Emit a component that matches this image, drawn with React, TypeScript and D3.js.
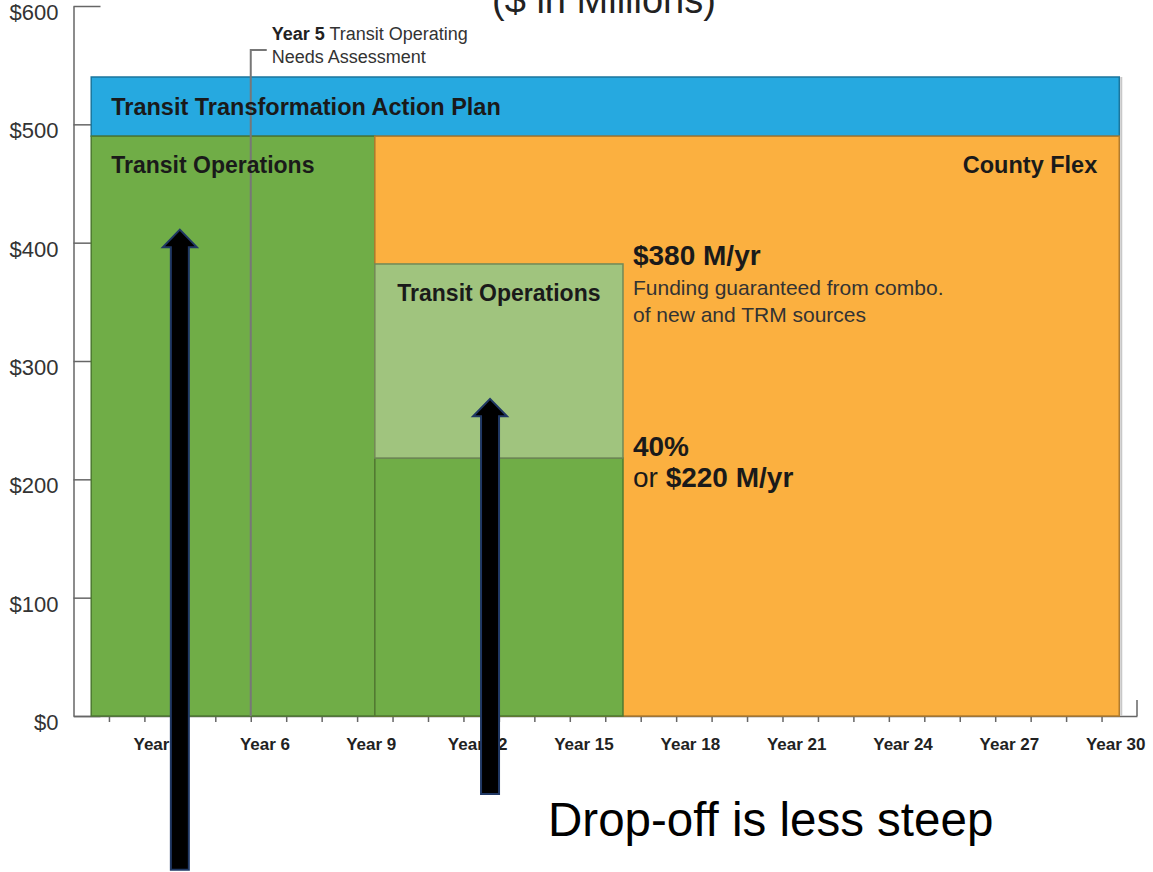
import * as d3 from "d3";
import { useRef, useEffect } from "react";

const W = 1153;
const H = 872;

// funding blocks: years on x, $ millions on y
const blockNames = [
  "Transit Transformation Action Plan",
  "Transit Operations",
  "County Flex",
  "Transit Operations (base)",
  "Transit Operations (guaranteed)",
];
const blockStart = [1.5, 1.5, 9.5, 9.5, 9.5];
const blockEnd = [30.5, 9.5, 30.5, 16.5, 16.5];
const blockLow = [490, 0, 0, 0, 218];
const blockHigh = [540, 490, 490, 218, 382];

const yTicks = [0, 100, 200, 300, 400, 500, 600];
const yearTicks = d3.range(2, 31);
const yearLabels = [3, 6, 9, 12, 15, 18, 21, 24, 27, 30];
const assessmentYear = 6;

// the two callout arrows (year, bottom $M, tip $M)
const arrowYears = [4, 12.75];
const arrowBase = [-130, -66];
const arrowTip = [411, 268];

const blockColors = ["#26a9e0", "#70ad47", "#fbb040", "#70ad47", "#a0c47e"];

const FONT = "Liberation Sans, Arial, Helvetica, sans-serif";

function draw(svgEl: SVGSVGElement | null) {
  if (!svgEl) return;
  const svg = d3.select(svgEl);
  svg.selectAll("*").remove();

  const x = d3.scaleLinear().domain([1, 31]).range([73.5, 1137]);
  const y = d3.scaleLinear().domain([0, 600]).range([716, 6]);

  // title, mostly cut off at the top (as in the source slide)
  svg
    .append("text")
    .attr("x", 604)
    .attr("y", 13)
    .attr("text-anchor", "middle")
    .attr("font-family", FONT)
    .attr("font-size", 38)
    .attr("fill", "#222")
    .text("($ in Millions)");

  // y axis
  const yAxis = svg
    .append("g")
    .attr("transform", `translate(${x(1)},0)`)
    .call(
      d3
        .axisLeft(y)
        .tickValues(yTicks)
        .tickSize(-27)
        .tickSizeOuter(0)
        .tickPadding(15)
        .tickFormat((d) => `$${d}`)
    );
  yAxis.select(".domain").attr("stroke", "#666").attr("stroke-width", 1.5);
  yAxis.selectAll(".tick line").attr("stroke", "#666").attr("stroke-width", 1.5);
  yAxis
    .selectAll(".tick text")
    .attr("font-family", FONT)
    .attr("font-size", 22)
    .attr("dy", "0.62em")
    .attr("fill", "#333");

  // x axis
  const xAxis = svg
    .append("g")
    .attr("transform", `translate(0,${y(0)})`)
    .call(
      d3
        .axisBottom(x)
        .tickValues(yearTicks)
        .tickSize(6)
        .tickSizeOuter(0)
        .tickFormat(() => "")
    );
  xAxis.select(".domain").attr("stroke", "#666").attr("stroke-width", 1.5);
  xAxis.selectAll(".tick line").attr("stroke", "#666").attr("stroke-width", 1.5);
  svg
    .append("line")
    .attr("x1", x(31))
    .attr("x2", x(31))
    .attr("y1", y(0))
    .attr("y2", y(0) - 16)
    .attr("stroke", "#666")
    .attr("stroke-width", 1.5);

  svg
    .append("g")
    .selectAll("text")
    .data(yearLabels)
    .join("text")
    .attr("x", (d) => x(d + 0.4))
    .attr("y", y(0) + 34)
    .attr("text-anchor", "middle")
    .attr("font-family", FONT)
    .attr("font-weight", "bold")
    .attr("font-size", 17)
    .attr("fill", "#222")
    .text((d) => `Year ${d}`);

  // blocks
  svg
    .append("g")
    .selectAll("rect")
    .data(blockNames)
    .join("rect")
    .attr("x", (_, i) => x(blockStart[i]))
    .attr("y", (_, i) => y(blockHigh[i]))
    .attr("width", (_, i) => x(blockEnd[i]) - x(blockStart[i]))
    .attr("height", (_, i) => y(blockLow[i]) - y(blockHigh[i]))
    .attr("fill", (_, i) => blockColors[i])
    .attr("stroke", (_, i) => d3.color(blockColors[i])!.darker(1).toString())
    .attr("stroke-width", 1.5);

  // light shadow on the right edge
  svg
    .append("line")
    .attr("x1", x(30.5) + 2)
    .attr("x2", x(30.5) + 2)
    .attr("y1", y(540))
    .attr("y2", y(0))
    .attr("stroke", "#c8c8c8")
    .attr("stroke-width", 2);

  // Year 5 needs assessment marker
  const xa = x(assessmentYear);
  svg
    .append("path")
    .attr("d", `M${xa},${y(0)}V50H${xa + 16}`)
    .attr("fill", "none")
    .attr("stroke", "#777")
    .attr("stroke-width", 2);
  const note = svg
    .append("text")
    .attr("font-family", FONT)
    .attr("font-size", 18)
    .attr("fill", "#333");
  const l1 = note.append("tspan").attr("x", xa + 21).attr("y", 40);
  l1.append("tspan").attr("font-weight", "bold").attr("fill", "#222").text("Year 5");
  l1.append("tspan").text(" Transit Operating");
  note.append("tspan").attr("x", xa + 21).attr("y", 63).text("Needs Assessment");

  // block labels
  const bold = (sel: d3.Selection<SVGTextElement, unknown, null, undefined>, size: number) =>
    sel
      .attr("font-family", FONT)
      .attr("font-weight", "bold")
      .attr("font-size", size)
      .attr("fill", "#1a1a1a");

  bold(svg.append("text"), 23.5)
    .attr("x", x(blockStart[0]) + 20)
    .attr("y", (y(blockHigh[0]) + y(blockLow[0])) / 2 + 8)
    .text(blockNames[0]);
  bold(svg.append("text"), 23)
    .attr("x", x(blockStart[1]) + 20)
    .attr("y", y(blockHigh[1]) + 37)
    .text(blockNames[1]);
  bold(svg.append("text"), 23.5)
    .attr("x", x(blockEnd[2]) - 22)
    .attr("y", y(blockHigh[2]) + 37)
    .attr("text-anchor", "end")
    .text(blockNames[2]);
  bold(svg.append("text"), 23)
    .attr("x", (x(blockStart[4]) + x(blockEnd[4])) / 2)
    .attr("y", y(blockHigh[4]) + 37)
    .attr("text-anchor", "middle")
    .text("Transit Operations");

  // right-hand notes
  const nx = x(blockEnd[4]) + 10;
  bold(svg.append("text"), 28)
    .attr("x", nx)
    .attr("y", y(blockHigh[4]) + 1)
    .text("$380 M/yr");
  const fund = svg
    .append("text")
    .attr("font-family", FONT)
    .attr("font-size", 21)
    .attr("fill", "#333");
  fund.append("tspan").attr("x", nx).attr("y", y(blockHigh[4]) + 31).text("Funding guaranteed from combo.");
  fund.append("tspan").attr("x", nx).attr("y", y(blockHigh[4]) + 58).text("of new and TRM sources");

  bold(svg.append("text"), 28)
    .attr("x", nx)
    .attr("y", y(blockLow[4]) - 2)
    .text("40%");
  const or = svg
    .append("text")
    .attr("font-family", FONT)
    .attr("font-size", 28)
    .attr("fill", "#1a1a1a")
    .attr("x", nx)
    .attr("y", y(blockLow[4]) + 29);
  or.append("tspan").text("or ");
  or.append("tspan").attr("font-weight", "bold").text("$220 M/yr");

  // arrows
  const arrow = (cx: number, tip: number, base: number) => {
    const p = d3.path();
    p.moveTo(cx, tip);
    p.lineTo(cx + 17, tip + 17.5);
    p.lineTo(cx + 9, tip + 17.5);
    p.lineTo(cx + 9, base);
    p.lineTo(cx - 9, base);
    p.lineTo(cx - 9, tip + 17.5);
    p.lineTo(cx - 17, tip + 17.5);
    p.closePath();
    return p.toString();
  };
  svg
    .append("g")
    .selectAll("path")
    .data(arrowYears)
    .join("path")
    .attr("d", (d, i) => arrow(x(d), y(arrowTip[i]), y(arrowBase[i])))
    .attr("fill", "#000")
    .attr("stroke", "#203864")
    .attr("stroke-width", 2);

  svg
    .append("text")
    .attr("x", x(arrowYears[1]) + 58)
    .attr("y", 836)
    .attr("font-family", FONT)
    .attr("font-size", 47.5)
    .attr("fill", "#000")
    .text("Drop-off is less steep");
}

export default function App() {
  const ref = useRef<SVGSVGElement | null>(null);

  useEffect(() => {
    draw(ref.current);
  }, []);

  return (
    <svg
      ref={ref}
      width={W}
      height={H}
      style={{ position: "absolute", left: 0, top: 0, background: "#fff" }}
    ></svg>
  );
}
